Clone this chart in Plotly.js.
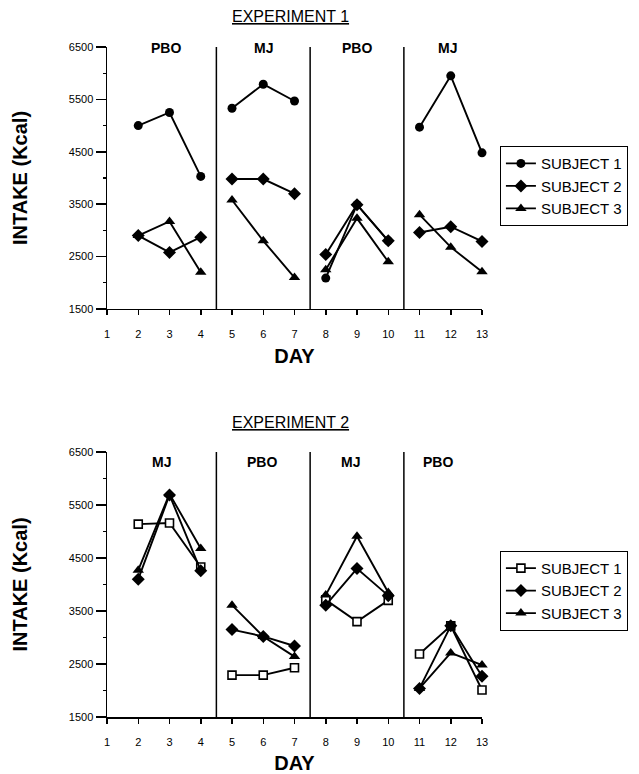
<!DOCTYPE html>
<html>
<head>
<meta charset="utf-8">
<script src="https://cdn.plot.ly/plotly-3.0.1.min.js"></script>
<style>html,body{margin:0;padding:0;background:#fff;}#chart{width:639px;height:774px;}</style>
</head>
<body>
<div id="chart"></div>
<script>
// ---- data ----
const days = [2, 3, 4, 5, 6, 7, 8, 9, 10, 11, 12, 13];
const segments = [[0, 3], [3, 6], [6, 9], [9, 12]];

const exp1Phases = ["PBO", "MJ", "PBO", "MJ"];
const exp1Subject1 = [5000, 5250, 4030, 5330, 5790, 5470, 2090, 3490, 2800, 4970, 5950, 4480];
const exp1Subject2 = [2900, 2580, 2870, 3980, 3980, 3700, 2540, 3490, 2800, 2960, 3070, 2790];
const exp1Subject3 = [2900, 3170, 2200, 3580, 2800, 2100, 2250, 3230, 2400, 3300, 2680, 2210];

const exp2Phases = ["MJ", "PBO", "MJ", "PBO"];
const exp2Subject1 = [5140, 5160, 4330, 2290, 2290, 2430, 3710, 3300, 3700, 2690, 3220, 2010];
const exp2Subject2 = [4100, 5690, 4260, 3150, 3020, 2840, 3610, 4300, 3790, 2040, 3220, 2270];
const exp2Subject3 = [4270, 5710, 4680, 3610, 3020, 2640, 3800, 4910, 3850, 2040, 2710, 2480];

const subjectNames = ["SUBJECT 1", "SUBJECT 2", "SUBJECT 3"];
const yTicks = [1500, 2500, 3500, 4500, 5500, 6500];
const yMinorTicks = [2000, 3000, 4000, 5000, 6000];
const xTicks = [1, 2, 3, 4, 5, 6, 7, 8, 9, 10, 11, 12, 13];
const dividers = [4.5, 7.5, 10.5];

// ---- build ----
const FONT = "Liberation Sans, Arial, sans-serif";
const exp1LabelX = [2.9, 6.0, 9.0, 11.9];
const exp2LabelX = [2.75, 5.95, 8.8, 11.6];
const traces = [];
function addSubject(values, name, marker, xa, ya, legendId) {
  segments.forEach((s, i) => {
    traces.push({
      type: "scatter", mode: "lines+markers",
      x: days.slice(s[0], s[1]), y: values.slice(s[0], s[1]),
      xaxis: xa, yaxis: ya, name: name,
      legend: legendId, showlegend: i === 0, cliponaxis: false,
      line: {color: "#000", width: 1.9},
      marker: marker
    });
  });
}
const filledCircle = {symbol: "circle", size: 9, color: "#000"};
const filledDiamond = {symbol: "diamond", size: 10, color: "#000"};
const filledTriangle = {symbol: "triangle-up", size: 10, color: "#000"};
const openSquare = {symbol: "square", size: 8, color: "#fff", line: {color: "#000", width: 1.6}};

addSubject(exp1Subject1, subjectNames[0], filledCircle, "x", "y", "legend");
addSubject(exp1Subject2, subjectNames[1], filledDiamond, "x", "y", "legend");
addSubject(exp1Subject3, subjectNames[2], filledTriangle, "x", "y", "legend");
addSubject(exp2Subject1, subjectNames[0], openSquare, "x2", "y2", "legend2");
addSubject(exp2Subject2, subjectNames[1], filledDiamond, "x2", "y2", "legend2");
addSubject(exp2Subject3, subjectNames[2], filledTriangle, "x2", "y2", "legend2");

const shapes = [];
const annotations = [];
[["x", "y", exp1Phases, exp1LabelX, 6480], ["x2", "y2", exp2Phases, exp2LabelX, 6310]].forEach(([xa, ya, phases, lx, ly]) => {
  dividers.forEach(d => shapes.push({type: "line", xref: xa, yref: ya, x0: d, x1: d, y0: 1500, y1: 6500,
    line: {color: "#000", width: 1.5}}));
  phases.forEach((p, i) => annotations.push({xref: xa, yref: ya, x: lx[i], y: ly, text: "<b>" + p + "</b>",
    showarrow: false, yanchor: "middle", font: {family: FONT, size: 14, color: "#000"}}));
});
annotations.push({xref: "paper", yref: "paper", x: 0.49, y: 1.046, xanchor: "center", yanchor: "middle",
  text: "<u>EXPERIMENT 1</u>", showarrow: false, font: {family: FONT, size: 16, color: "#000"}});
annotations.push({xref: "paper", yref: "paper", x: 0.49, y: 0.44, xanchor: "center", yanchor: "middle",
  text: "<u>EXPERIMENT 2</u>", showarrow: false, font: {family: FONT, size: 16, color: "#000"}});

function xAxis(anchor) {
  return {anchor: anchor, range: [1, 13], tickvals: xTicks, ticktext: xTicks.map(String),
    ticks: "outside", ticklen: 5, tickwidth: 1.5, tickcolor: "#000", showline: true, linecolor: "#000", linewidth: 1.5,
    ticklabelstandoff: 9,
    showgrid: false, zeroline: false, tickfont: {family: FONT, size: 11, color: "#000"},
    title: {text: "<b>DAY</b>", font: {family: FONT, size: 20, color: "#000"}, standoff: 10}};
}
function yAxis(anchor, domain) {
  return {anchor: anchor, domain: domain, range: [1500, 6500], tickvals: yTicks,
    ticks: "outside", ticklen: 10, tickwidth: 1.5, tickcolor: "#000", showline: true, linecolor: "#000", linewidth: 1.5,
    minor: {tickvals: yMinorTicks, ticks: "outside", ticklen: 3, tickcolor: "#000", tickwidth: 1.2},
    showgrid: false, zeroline: false, tickfont: {family: FONT, size: 11, color: "#000"},
    title: {text: "<b>INTAKE (Kcal)</b>", font: {family: FONT, size: 20, color: "#000"}, standoff: 36}};
}
const legendStyle = (y) => ({x: 1.045, y: y, xanchor: "left", yanchor: "top", bordercolor: "#000", borderwidth: 1,
  bgcolor: "#fff", tracegroupgap: 0, font: {family: FONT, size: 15, color: "#000"}});

const layout = {
  width: 639, height: 774, paper_bgcolor: "#fff", plot_bgcolor: "#fff",
  margin: {l: 107, r: 156, t: 47, b: 57},
  font: {family: FONT, color: "#000"},
  xaxis: xAxis("y"), yaxis: yAxis("x", [0.609, 1]),
  xaxis2: xAxis("y2"), yaxis2: yAxis("x2", [0, 0.3955]),
  legend: legendStyle(0.852), legend2: legendStyle(0.248),
  shapes: shapes, annotations: annotations
};
Plotly.newPlot("chart", traces, layout, {displayModeBar: false, staticPlot: true});
</script>
</body>
</html>
